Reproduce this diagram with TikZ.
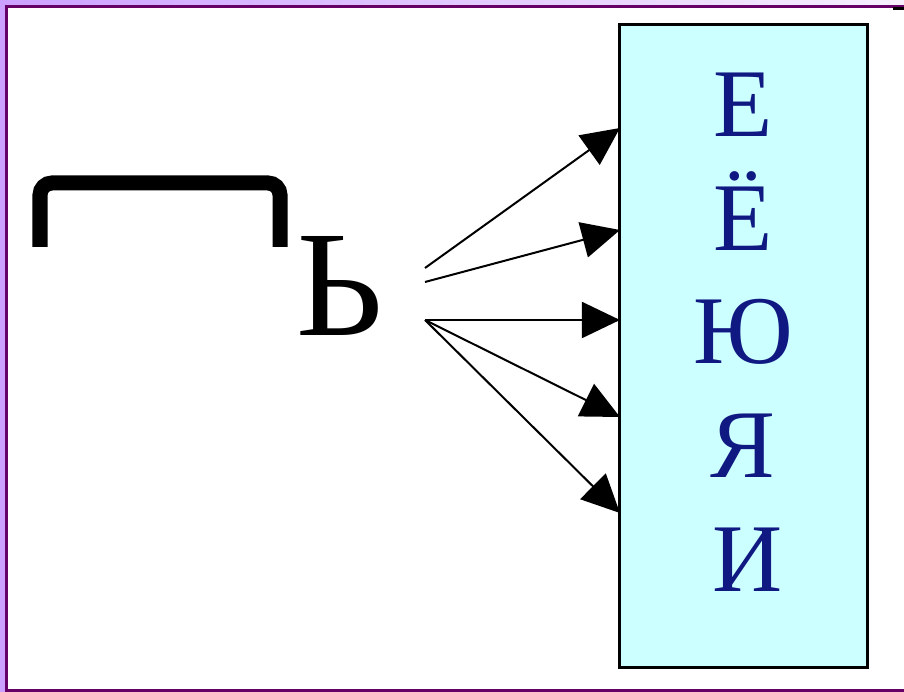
\documentclass[tikz,border=0pt]{standalone}
\usepackage{fontspec}
\setmainfont{Liberation Serif}
\usetikzlibrary{arrows.meta, positioning}

\definecolor{frameline}{RGB}{102,0,102}
\definecolor{framefill}{RGB}{204,160,255}
\definecolor{boxfill}{RGB}{204,255,255}
\definecolor{lettercol}{RGB}{16,24,130}

\begin{document}
\begin{tikzpicture}[x=0.01cm, y=-0.01cm,
    every node/.style={inner sep=0pt, outer sep=0pt},
    vowel/.style={anchor=base, text=lettercol, font=\fontsize{27.6}{30}\selectfont},
    vowelbox/.style={draw, line width=0.03cm, fill=boxfill, minimum width=2.47cm, minimum height=6.42cm},
    arrow/.style={-{Triangle[length=0.38cm, width=0.36cm]}, line width=0.02cm},
    bracket/.style={line width=0.15cm, rounded corners=0.12cm}
]
    \useasboundingbox (0,0) rectangle (904,692);

    % Frame
    \fill[white] (0,0) rectangle (904,692);
    \fill[framefill] (0,0) rectangle (5,692);
    \shade[left color=framefill, right color=framefill!15] (0,0) rectangle (904,5);
    \draw[frameline, line width=0.028cm] (6.4,692) -- (6.4,6.4) -- (904,6.4);
    \draw[frameline, line width=0.03cm] (5,690.5) -- (904,690.5);
    \fill[black] (893,7) rectangle (904,10);

    % Bracket
    \draw[bracket] (40,247) -- (40,183) -- (280,183) -- (280,247);

    % Soft sign
    \node (soft) [anchor=base, font=\fontsize{43}{48}\selectfont] at (340,336) {Ь};

    % Vowel box
    \node (box) [vowelbox] at (743.5,346) {};
    \node (v_e)  [vowel] at (743,137) {Е};
    \node (v_yo) [vowel] at (743,251) {Ё};
    \node (v_yu) [vowel] at (743,364) {Ю};
    \node (v_ya) [vowel] at (743,478) {Я};
    \node (v_i)  [vowel] at (748,591) {И};

    % Arrow ends
    \coordinate (s_a) at (425,268);
    \coordinate (s_b) at (425,282);
    \coordinate (s_c) at (425,320);
    \coordinate (t_e)  at (box.west |- 0,128);
    \coordinate (t_yo) at (box.west |- 0,230);
    \coordinate (t_yu) at (box.west |- 0,320);
    \coordinate (t_ya) at (box.west |- 0,417);
    \coordinate (t_i)  at (box.west |- 0,513);

    % Arrows
    \draw [arrow] (s_a) -- (t_e);
    \draw [arrow] (s_b) -- (t_yo);
    \draw [arrow] (s_c) -- (t_yu);
    \draw [arrow] (s_c) -- (t_ya);
    \draw [arrow] (s_c) -- (t_i);
\end{tikzpicture}
\end{document}
